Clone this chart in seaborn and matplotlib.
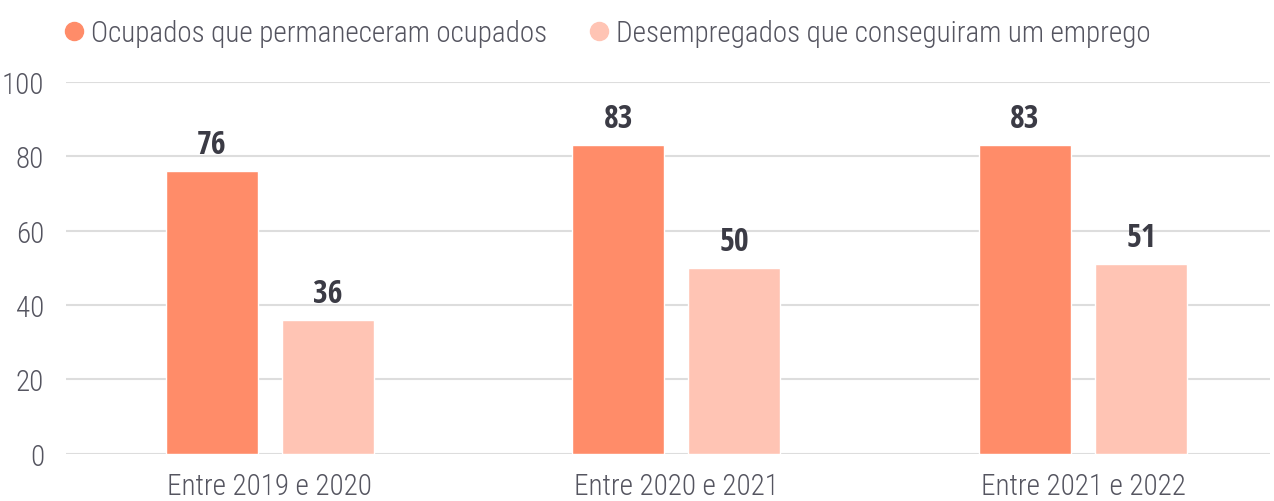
import pandas as pd
import seaborn as sns
import matplotlib.pyplot as plt
from matplotlib.lines import Line2D

periods = ["Entre 2019 e 2020", "Entre 2020 e 2021", "Entre 2021 e 2022"]
series_names = ["Ocupados que permaneceram ocupados", "Desempregados que conseguiram um emprego"]
ocupados = [76, 83, 83]
desempregados = [36, 50, 51]
yticks = [0, 20, 40, 60, 80, 100]

colors = ["#FF8C69", "#FFC4B4"]

data = pd.DataFrame({
    "Periodo": periods * 2,
    "Serie": [series_names[0]] * 3 + [series_names[1]] * 3,
    "Valor": ocupados + desempregados,
})

sns.set_theme(style="white")
plt.rcParams["font.family"] = ["Roboto Condensed", "DejaVu Sans"]
plt.rcParams["font.weight"] = "light"

fig = plt.figure(figsize=(12.74, 5.02), dpi=100)
ax = fig.add_axes([0.052, 0.094, 0.945, 0.741])

sns.barplot(data=data, x="Periodo", y="Valor", hue="Serie", palette=colors,
            width=0.57, gap=0.207, ax=ax, legend=False, saturation=1)

for cont in ax.containers:
    ax.bar_label(cont, fmt="%d", padding=7, fontsize=23, fontweight="bold",
                 color="#3b3b45", family=["Open Sans Condensed", "DejaVu Sans"])

ax.set_ylim(0, 100)
ax.set_xlim(-0.5, 2.46)
ax.set_yticks(yticks)
ax.yaxis.grid(True, color="#dddddd", linewidth=1.5)
ax.set_axisbelow(True)
for s in ax.spines.values():
    s.set_visible(False)
ax.set_xlabel(None)
ax.set_ylabel(None)
ax.tick_params(axis="y", labelsize=21, colors="#555560", length=0, pad=16)
ax.tick_params(axis="x", labelsize=21, colors="#555560", length=0, pad=13)

handles = [Line2D([], [], marker="o", linestyle="", markersize=13, color=c) for c in colors]
fig.legend(handles, series_names, loc="upper left", bbox_to_anchor=(0.026, 1.012),
           ncol=2, frameon=False, fontsize=21, handletextpad=0.1, columnspacing=1.25,
           labelcolor="#555560", handlelength=1.0)

fig.savefig("out.png", dpi=100)
